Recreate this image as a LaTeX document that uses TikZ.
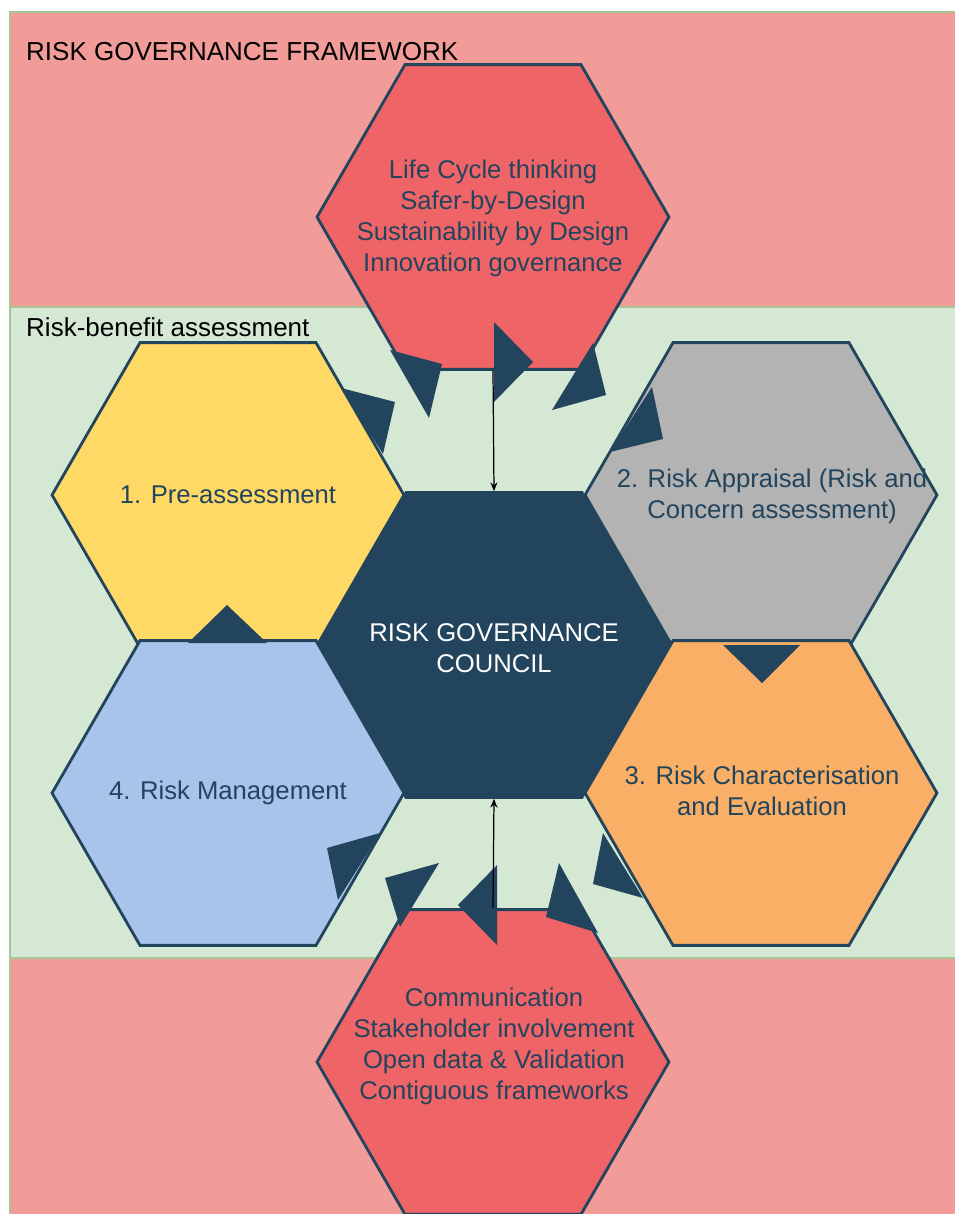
\documentclass[tikz,border=0pt]{standalone}
\usepackage{fontspec}
\setmainfont{Liberation Sans}
\usetikzlibrary{shapes.geometric,arrows.meta}
\definecolor{bandPink}{HTML}{F19C99}
\definecolor{bandGreen}{HTML}{D5E8D4}
\definecolor{bandLine}{HTML}{A8C495}
\definecolor{hexRed}{HTML}{EF6467}
\definecolor{hexNavy}{HTML}{23445D}
\definecolor{hexYellow}{HTML}{FFD966}
\definecolor{hexGray}{HTML}{B3B3B3}
\definecolor{hexBlue}{HTML}{A9C4EB}
\definecolor{hexOrange}{HTML}{F9B066}

\begin{document}
\begin{tikzpicture}[x=0.02cm,y=-0.02cm,
                    hexND/.style={regular polygon,
                                  regular polygon sides=6,
                                  minimum size=7.04cm,
                                  inner sep=0pt,
                                  draw=hexNavy,
                                  line width=1.6pt},
                    hexTXT/.style={align=center,
                                   text=hexNavy,
                                   font=\fontsize{14.6}{17.6}\selectfont},
                    bandND/.style={draw=bandLine, line width=0.6pt},
                    tipND/.style={fill=hexNavy}]
            \useasboundingbox (0,0) rectangle (955,1214);
            % bands
            \path[bandND, fill=bandPink]  (10,12)  rectangle (956,307);
            \path[bandND, fill=bandGreen] (10,307) rectangle (956,958);
            \path[bandND, fill=bandPink]  (10,958) rectangle (956,1215);
            \node[anchor=base west, font=\fontsize{14.8}{17.6}\selectfont](fwTitle) at (20,60)  {RISK GOVERNANCE FRAMEWORK};
            \node[anchor=base west, font=\fontsize{14.8}{17.6}\selectfont](rbTitle) at (20,336) {Risk-benefit assessment};
            % hexagons
            \node[hexND, fill=hexRed](topHex)     at (493,217)  {};
            \node[hexND, fill=hexYellow](pre)     at (228,495)  {};
            \node[hexND, fill=hexGray](appraisal) at (761,495)  {};
            \node[hexND, fill=hexNavy](council)   at (494,645)  {};
            \node[hexND, fill=hexBlue](mgmt)      at (228,793)  {};
            \node[hexND, fill=hexOrange](charact) at (761,793)  {};
            \node[hexND, fill=hexRed](botHex)     at (493,1062) {};
            % texts
            \node[hexTXT](topT)     at (493,218)  {Life Cycle thinking\\Safer-by-Design\\Sustainability by Design\\Innovation governance};
            \node[hexTXT](preT)     at (228,495)  {1. Pre-assessment};
            \node[hexTXT](apprT)    at (772,496)  {2. Risk Appraisal (Risk and\\Concern assessment)};
            \node[hexTXT, text=white](councilT) at (494,648) {RISK GOVERNANCE\\COUNCIL};
            \node[hexTXT](mgmtT)    at (228,793)  {4. Risk Management};
            \node[hexTXT](charT)    at (762,791)  {3. Risk Characterisation\\and Evaluation};
            \node[hexTXT](botT)     at (494,1046) {Communication\\Stakeholder involvement\\Open data \& Validation\\Contiguous frameworks};
            % cycle tips
            \fill[tipND] (390,350) -- (442,364) -- (429,418) -- cycle;
            \fill[tipND] (494,322) -- (533,362) -- (494,402) -- cycle;
            \fill[tipND] (593,343) -- (606,395) -- (552,410) -- cycle;
            \fill[tipND] (341,388) -- (395,402) -- (383,454) -- cycle;
            \fill[tipND] (652,387) -- (663,439) -- (610,452) -- cycle;
            \fill[tipND] (188,643) -- (227,605) -- (267,643) -- cycle;
            \fill[tipND] (723,645) -- (800,645) -- (762,683) -- cycle;
            \fill[tipND] (327,848) -- (380,833) -- (338,900) -- cycle;
            \fill[tipND] (385,878) -- (439,863) -- (400,927) -- cycle;
            \fill[tipND] (497,865) -- (458,905) -- (497,945) -- cycle;
            \fill[tipND] (559,863) -- (598,933) -- (546,917) -- cycle;
            \fill[tipND] (603,833) -- (643,898) -- (593,884) -- cycle;
            % links to the council
            \path
                (topHex.south) edge [-{Stealth[length=5pt,width=4pt]}, line width=0.7pt] (council.north)
                (botHex.north) edge [-{Stealth[length=5pt,width=4pt]}, line width=0.7pt] (council.south)
                ;
        \end{tikzpicture}
\end{document}
